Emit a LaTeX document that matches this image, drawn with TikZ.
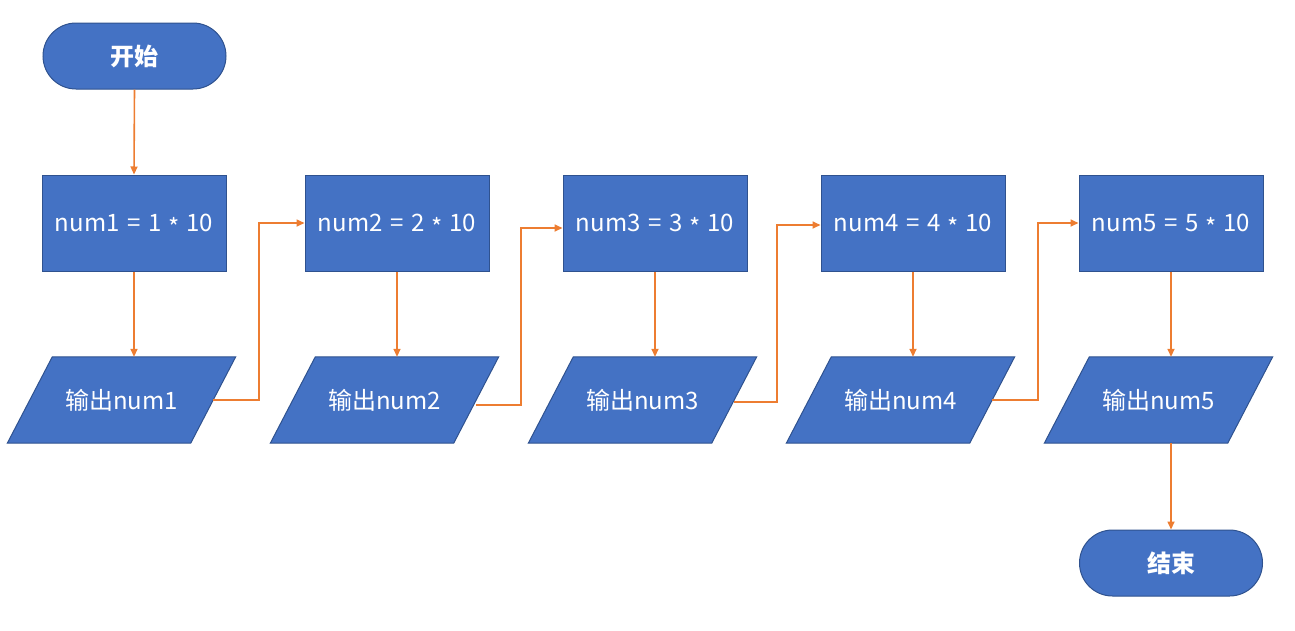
\documentclass[tikz,border=0pt]{standalone}
\usepackage{fontspec}
\setmainfont{Noto Sans CJK SC}
\usetikzlibrary{arrows.meta,calc,backgrounds}
\definecolor{boxfill}{HTML}{4472C4}
\definecolor{boxline}{HTML}{2F528F}
\definecolor{arrcol}{HTML}{ED7D31}
\tikzset{
  termbox/.style={draw=boxline, fill=boxfill, line width=1pt, rounded corners=33pt,
    minimum width=183pt, minimum height=66pt, inner sep=0pt, text=white,
    font=\fontsize{24}{28}\selectfont\bfseries},
  procbox/.style={draw=boxline, fill=boxfill, line width=1pt,
    minimum width=184pt, minimum height=96pt, inner sep=0pt, text=white,
    font=\fontsize{24}{28}\selectfont},
  iobox/.style={minimum width=183pt, minimum height=86pt, inner sep=0pt, text=white,
    font=\fontsize{24}{28}\selectfont},
  iofill/.style={draw=boxline, fill=boxfill, line width=1pt},
  arr/.style={draw=arrcol, line width=1.6pt, -{Triangle[length=8pt,width=7pt]}},
}
\newcommand{\iodraw}[1]{%
  \path[iofill] ($(#1.north west)+(22.5pt,0)$) -- ($(#1.north east)+(22.5pt,0)$)
    -- ($(#1.south east)+(-22.5pt,0)$) -- ($(#1.south west)+(-22.5pt,0)$) -- cycle;}
\newcommand{\eqtxt}[2]{num#1\hspace{0.32em}=\hspace{0.32em}#1\hspace{0.28em}\smash{\raisebox{-0.22em}{*}}\hspace{0.28em}#2}
\begin{document}
\begin{tikzpicture}[x=1pt,y=-1pt]
\useasboundingbox (0,0) rectangle (1295,630);
\node[termbox] (start) at (134.5,56) {开始};
\node[procbox] (b1) at (134,223) {\eqtxt{1}{10}};
\node[procbox] (b2) at (397,223) {\eqtxt{2}{10}};
\node[procbox] (b3) at (655,223) {\eqtxt{3}{10}};
\node[procbox] (b4) at (913,223) {\eqtxt{4}{10}};
\node[procbox] (b5) at (1171,223) {\eqtxt{5}{10}};
\node[iobox] (p1) at (121.5,400) {输出num1};
\node[iobox] (p2) at (384.5,400) {输出num2};
\node[iobox] (p3) at (642.5,400) {输出num3};
\node[iobox] (p4) at (900.5,400) {输出num4};
\node[iobox] (p5) at (1158.5,400) {输出num5};
\node[termbox] (end) at (1171,563) {结束};
\begin{scope}[on background layer]
\iodraw{p1}\iodraw{p2}\iodraw{p3}\iodraw{p4}\iodraw{p5}
\end{scope}
\draw[arr] (start.south) -- (b1.north);
\foreach \i in {1,...,5}{
  \draw[arr] (b\i.south) -- (b\i.south |- p\i.north);
}
\draw[arr] (p1.east) -- ++(45.5,0) |- (b2.west);
\draw[arr] ($(p2.east)+(0,5)$) -- ++(45,0) |- ($(b2.west)+(258,5)$);
\draw[arr] ($(p3.east)+(0,2)$) -- ++(43,0) |- ($(b4.west)+(0,2)$);
\draw[arr] (p4.east) -- ++(46,0) |- (b5.west);
\draw[arr] (p5.south -| b5.south) -- (end.north);
\end{tikzpicture}
\end{document}
